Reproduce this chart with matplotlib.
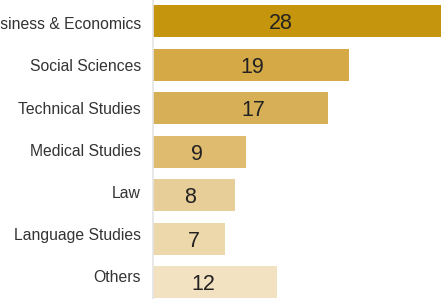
import matplotlib
matplotlib.use("Agg")
import matplotlib.pyplot as plt

categories = ["Business & Economics", "Social Sciences", "Technical Studies",
              "Medical Studies", "Law", "Language Studies", "Others"]
values = [28, 19, 17, 9, 8, 7, 12]
label_x = [12.4, 9.6, 9.7, 4.3, 3.6, 4.0, 4.85]
colors = ["#C5950D", "#D4A946", "#D7AF56", "#DEBB6F", "#E7CD97", "#EDD8AB", "#F2E2C2"]

plt.rcParams['font.family'] = ['Liberation Sans', 'DejaVu Sans']

fig = plt.figure(figsize=(4.41, 2.99), dpi=100)
ax = fig.add_axes([153/441, 0, 1 - 153/441, 1])
pos = list(range(len(categories)))
ax.barh(pos, values, height=0.735, color=colors)
ax.set_xlim(0, 27.93)
ax.set_ylim(6.39, -0.483)
# category labels sit on a slightly tighter pitch than the bars
ax.set_yticks([p * 0.97 + 0.05 for p in pos])
ax.set_yticklabels(categories, fontsize=11.3, color="#333333")
ax.tick_params(axis='y', length=0, pad=8.6)
ax.set_xticks([])
for s in ["top", "right", "bottom"]:
    ax.spines[s].set_visible(False)
ax.spines["left"].set_color("#e4e4e4")
ax.spines["left"].set_linewidth(1.2)
for p, v, lx in zip(pos, values, label_x):
    ax.text(lx, p, str(v), ha="center", va="center_baseline", fontsize=15.5, color="#222222")

fig.savefig("out.png", dpi=100)
